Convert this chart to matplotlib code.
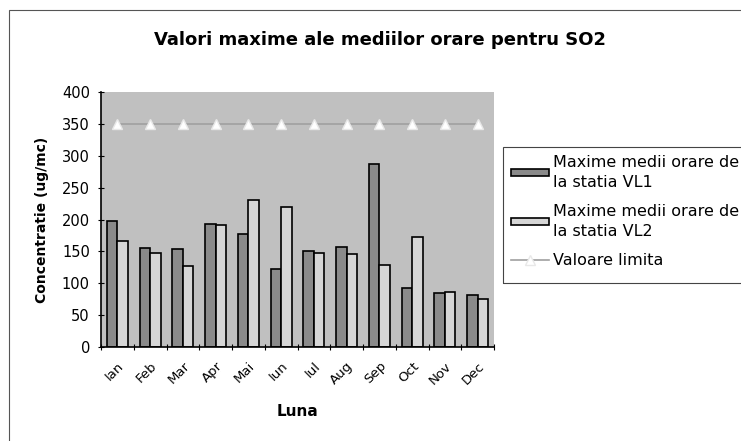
import matplotlib.pyplot as plt
import matplotlib.patches as mpatches
import matplotlib.transforms as mtransforms
import numpy as np

# date
luni = ['Ian', 'Feb', 'Mar', 'Apr', 'Mai', 'Iun', 'Iul', 'Aug', 'Sep', 'Oct', 'Nov', 'Dec']
vl1 = [198, 156, 154, 193, 178, 123, 151, 157, 287, 93, 85, 82]
vl2 = [167, 148, 127, 192, 230, 219, 147, 146, 129, 172, 87, 75]
limita = [350] * 12

plt.rcParams['font.family'] = ['DejaVu Sans']

fig = plt.figure(figsize=(7.41, 4.41), dpi=100)
fig.patch.set_facecolor('white')

# chenarul graficului
fig.patches.append(mpatches.Rectangle((9 / 741, -0.1), 1.2, 1 - 10 / 441 + 0.1,
                                      transform=fig.transFigure, fill=False,
                                      edgecolor='#555555', linewidth=0.8))
# chenarul legendei
fig.patches.append(mpatches.Rectangle((503 / 741, 1 - 283 / 441), 0.5, 136 / 441,
                                      transform=fig.transFigure, fill=False,
                                      edgecolor='#444444', linewidth=0.8))

ax = fig.add_axes([101 / 741, 1 - 347 / 441, 393 / 741, 255 / 441])
ax.set_facecolor('#c0c0c0')

x = np.arange(len(luni))
w = 0.32
b1 = ax.bar(x - w / 2, vl1, w, color='#8a8a8a', edgecolor='black', linewidth=1.2,
            label='Maxime medii orare de\nla statia VL1')
b2 = ax.bar(x + w / 2, vl2, w, color='#d6d6d6', edgecolor='black', linewidth=1.2,
            label='Maxime medii orare de\nla statia VL2')
l1, = ax.plot(x, limita, color='#a0a0a0', linewidth=1.2, marker='^', markersize=7,
              markerfacecolor='white', markeredgecolor='#e8e8e8', label='Valoare limita')

ax.set_xlim(-0.5, 11.5)
ax.set_ylim(0, 400)
ax.set_yticks(range(0, 401, 50))
ax.set_xticks(np.arange(-0.5, 12, 1), minor=False)
ax.set_xticklabels([])
ax.set_xticks(x, minor=True)
ax.set_xticklabels(luni, minor=True, rotation=45, ha='right', rotation_mode='anchor', fontsize=9.5)
# etichetele lunilor putin spre stanga
off = mtransforms.ScaledTranslation(-6 / 100, 0, fig.dpi_scale_trans)
for lab in ax.get_xticklabels(minor=True):
    lab.set_transform(lab.get_transform() + off)
ax.tick_params(axis='x', which='minor', length=0, pad=9)
ax.tick_params(axis='x', which='major', length=4, direction='inout')
ax.tick_params(axis='y', labelsize=10.5, length=4, direction='inout', pad=6)
for s in ['top', 'right']:
    ax.spines[s].set_visible(False)
ax.spines['left'].set_linewidth(1.2)
ax.spines['bottom'].set_linewidth(1.2)

ax.set_ylabel('Concentratie (ug/mc)', fontsize=10, fontweight='bold', labelpad=9)
ax.set_xlabel('Luna', fontsize=11, fontweight='bold', labelpad=12)
fig.text(380 / 741, 1 - 40 / 441, 'Valori maxime ale mediilor orare pentru SO2',
         ha='center', va='center', fontsize=13, fontweight='bold')

leg = fig.legend(handles=[b1, b2, l1], loc='upper left',
                 bbox_to_anchor=(503 / 741, 1 - 147 / 441), fontsize=11.5,
                 frameon=False, handlelength=2.4, handleheight=0.3, handletextpad=0.25,
                 labelspacing=0.85, borderpad=0.5, borderaxespad=0)
for t in leg.get_texts():
    t.set_linespacing(1.45)

plt.savefig('out.png', dpi=100)
